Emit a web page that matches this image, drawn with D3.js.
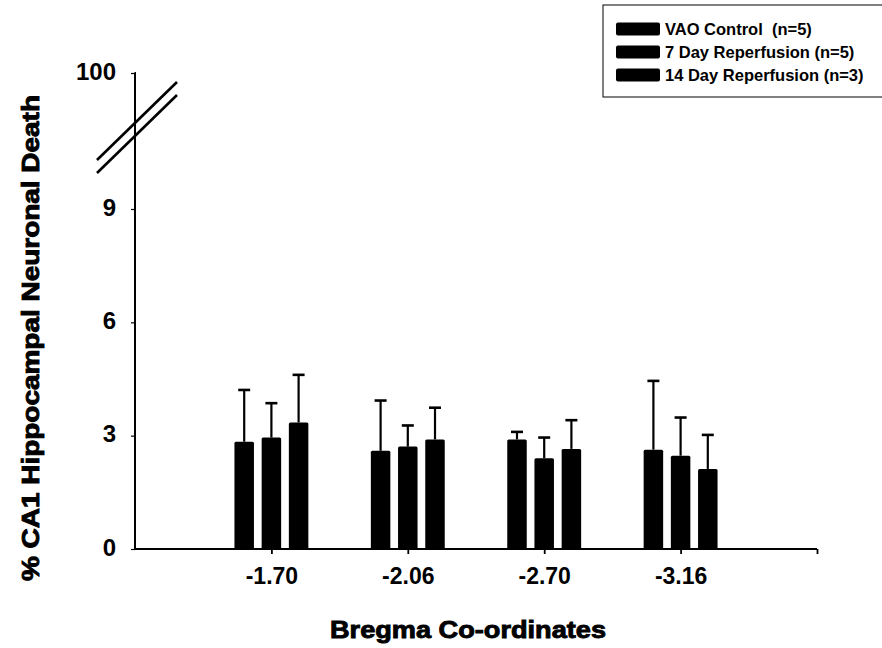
<!DOCTYPE html>
<html>
<head>
<meta charset="utf-8">
<script src="https://cdn.jsdelivr.net/npm/d3@7"></script>
<style>
  html, body { margin: 0; padding: 0; background: #fff; }
  svg { display: block; }
  text { font-family: "Liberation Sans", Arial, sans-serif; font-weight: bold; fill: #000; }
  .legend-label { white-space: pre; }
</style>
</head>
<body>
<svg id="chart" width="882" height="648"></svg>
<script>
// Bregma co-ordinates (x groups)
const categories = ["-1.70", "-2.06", "-2.70", "-3.16"];
// Treatment groups
const seriesNames = ["VAO Control  (n=5)", "7 Day Reperfusion (n=5)", "14 Day Reperfusion (n=3)"];
// Mean % neuronal death per group at each co-ordinate
const vaoMean   = [2.84, 2.60, 2.90, 2.63];
const day7Mean  = [2.95, 2.71, 2.40, 2.47];
const day14Mean = [3.35, 2.90, 2.65, 2.12];
// Standard errors (upward bars only)
const vaoErr   = [1.37, 1.33, 0.20, 1.82];
const day7Err  = [0.91, 0.56, 0.55, 1.01];
const day14Err = [1.26, 0.84, 0.76, 0.90];
// Y tick values (axis is broken between 9 and 100)
const yTicks = [0, 3, 6, 9, 100];

const means = [vaoMean, day7Mean, day14Mean];
const errs = [vaoErr, day7Err, day14Err];

const svg = d3.select("#chart");

// Piecewise scale: linear 0–9, compressed segment up to 100 above the break
const y = d3.scaleLinear().domain([0, 9, 100]).range([549, 209, 73]);
// Group positions 1..4 along a 0..5 axis
const x = d3.scaleLinear().domain([0, categories.length + 1]).range([135, 817]);
const offset = d3.scalePoint().domain(d3.range(seriesNames.length)).range([-27.2, 27.2]);
const barW = 19.5;
const capW = 12;

// Error bars (drawn first so bars sit over the stem base)
const errG = svg.append("g").attr("stroke", "#000").attr("stroke-width", 2.2);
means.forEach((m, s) => {
  m.forEach((v, i) => {
    const cx = x(i + 1) + offset(s);
    const top = y(v + errs[s][i]);
    errG.append("line").attr("x1", cx).attr("x2", cx).attr("y1", y(v)).attr("y2", top);
    errG.append("line").attr("x1", cx - capW / 2).attr("x2", cx + capW / 2).attr("y1", top).attr("y2", top)
      .attr("stroke-width", 2.6);
  });
});

// Bars
const barG = svg.append("g");
means.forEach((m, s) => {
  barG.selectAll(null).data(m).join("rect")
    .attr("x", (d, i) => x(i + 1) + offset(s) - barW / 2)
    .attr("y", d => y(d))
    .attr("width", barW)
    .attr("height", d => y(0) - y(d))
    .attr("rx", 1.5)
    .attr("fill", "#000");
});

// Y axis
const yAxis = d3.axisLeft(y).tickValues(yTicks).tickSize(4).tickPadding(15).tickFormat(d3.format("d"));
const yG = svg.append("g").attr("transform", `translate(${x(0)},0)`).call(yAxis);
yG.select(".domain").attr("stroke", "#000").attr("stroke-width", 2).attr("d", `M-0.5,${y(100)}H0V${y(0)}`);
yG.selectAll(".tick line").attr("stroke", "#000").attr("stroke-width", 1.2);
yG.selectAll(".tick text").style("font-size", "24px").attr("dy", "0.25em");

// X axis
const xAxis = d3.axisBottom(x).tickValues([1, 2, 3, 4, 5]).tickSize(5).tickPadding(14)
  .tickFormat(d => categories[d - 1] || "");
const xG = svg.append("g").attr("transform", `translate(0,${y(0)})`).call(xAxis);
xG.select(".domain").attr("stroke", "#000").attr("stroke-width", 1.8).attr("d", `M${x(0)},0H${x(5)}`);
xG.selectAll(".tick line").attr("stroke", "#000").attr("stroke-width", 1.8);
xG.selectAll(".tick text").style("font-size", "23px");

// Axis break marks
const brk = svg.append("g").attr("stroke", "#000").attr("stroke-width", 2.6);
[[97, 160, 177, 82], [97, 173, 177, 95]].forEach(([x1, y1, x2, y2]) => {
  brk.append("line").attr("x1", x1).attr("y1", y1).attr("x2", x2).attr("y2", y2);
});

// Axis titles
svg.append("text")
  .attr("x", 468).attr("y", 638)
  .attr("text-anchor", "middle")
  .style("font-size", "24px")
  .attr("stroke", "#000").attr("stroke-width", 0.9)
  .attr("textLength", 276).attr("lengthAdjust", "spacingAndGlyphs")
  .text("Bregma Co-ordinates");

svg.append("text")
  .attr("transform", "translate(39,338) rotate(-90)")
  .attr("text-anchor", "middle")
  .style("font-size", "23px")
  .attr("stroke", "#000").attr("stroke-width", 0.9)
  .attr("textLength", 486).attr("lengthAdjust", "spacingAndGlyphs")
  .text("% CA1 Hippocampal Neuronal Death");

// Legend
const lg = svg.append("g").attr("transform", "translate(603,5)");
lg.append("rect").attr("x", 0).attr("y", 0).attr("width", 300).attr("height", 92)
  .attr("fill", "#fff").attr("stroke", "#000").attr("stroke-width", 1);
seriesNames.forEach((name, i) => {
  const row = lg.append("g").attr("transform", `translate(0,${24 + i * 23})`);
  row.append("rect").attr("x", 13).attr("y", -6.5).attr("width", 44).attr("height", 13).attr("rx", 2).attr("fill", "#000");
  row.append("text").attr("class", "legend-label").attr("x", 62).attr("y", 0).attr("dy", "0.36em")
    .style("font-size", "16.5px").text(name);
});
</script>
</body>
</html>
